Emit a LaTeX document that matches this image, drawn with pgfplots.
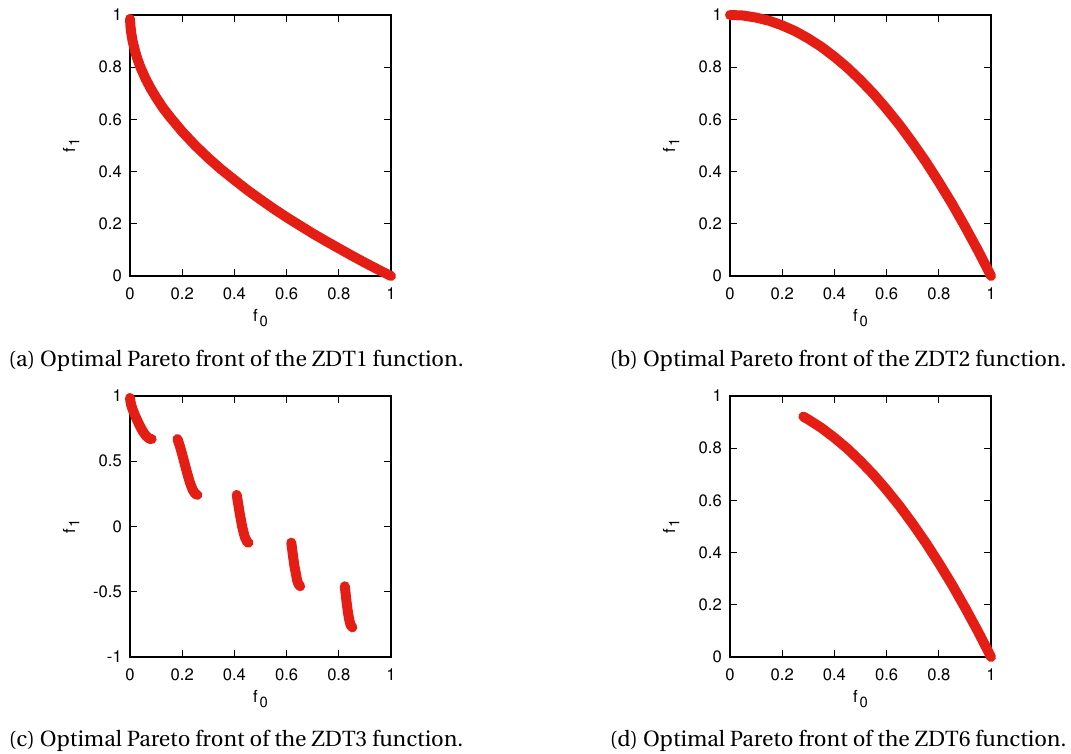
\documentclass[border=0pt]{standalone}
\usepackage[T1]{fontenc}
\usepackage{pgfplots}
\pgfplotsset{compat=1.18}
\definecolor{ptred}{RGB}{228,30,20}
\newcommand\hv{\fontfamily{phv}\fontsize{8.3}{9}\selectfont}
\newcommand\capfont{\fontfamily{put}\fontsize{11}{13}\selectfont}
\newcommand\sub[1]{\kern0.9pt\raisebox{-0.5ex}{\fontfamily{phv}\fontsize{7.4}{8}\selectfont #1}}
\pgfplotsset{
  zdt/.style={
    scale only axis, width=130.5pt, height=130.5pt,
    xmin=0, xmax=1,
    xtick={0,0.2,0.4,0.6,0.8,1},
    tick align=inside,
    major tick length=3.6pt,
    axis line style={line width=0.55pt},
    every tick/.style={black, line width=0.55pt},
    tick label style={font=\hv},
    /pgf/number format/assume math mode=true,
    xticklabel style={yshift=-2.2pt},
    yticklabel style={xshift=-0.6pt},
    xlabel={\hv f\sub{0}},
    ylabel={\hv f\sub{1}},
    xlabel style={at={(axis description cs:0.5,-0.1762)}, anchor=base},
    ylabel style={at={(axis description cs:-0.2107,0.5)}, anchor=base, rotate=0},
    clip=false,
  },
  front/.style={ptred, line width=5pt, line cap=round, line join=round, no marks},
}
\begin{document}
\begin{tikzpicture}
\useasboundingbox (0,0) rectangle (535.5pt,377pt);
% (a) ZDT1
\begin{axis}[zdt, at={(65pt,239pt)}, anchor=south west, ymin=0, ymax=1,
  ytick={0,0.2,0.4,0.6,0.8,1}]
\addplot[front] coordinates {
(0,0.985) (0.002,0.955) (0.005,0.929) (0.01,0.9) (0.02,0.859) (0.03,0.827)
(0.04,0.8) (0.06,0.755) (0.08,0.717) (0.1,0.684) (0.125,0.646) (0.15,0.613)
(0.2,0.553) (0.25,0.5) (0.3,0.452) (0.35,0.408) (0.4,0.368) (0.45,0.329)
(0.5,0.293) (0.55,0.258) (0.6,0.225) (0.65,0.194) (0.7,0.163) (0.75,0.134)
(0.8,0.106) (0.85,0.078) (0.9,0.051) (0.95,0.025) (0.98,0.010) (1.0,0.0) };
\end{axis}
% (b) ZDT2
\begin{axis}[zdt, at={(365pt,239pt)}, anchor=south west, ymin=0, ymax=1,
  ytick={0,0.2,0.4,0.6,0.8,1}]
\addplot[front] coordinates {
(0,1) (0.05,0.998) (0.1,0.99) (0.15,0.978) (0.2,0.96) (0.25,0.938)
(0.3,0.91) (0.35,0.878) (0.4,0.84) (0.45,0.798) (0.5,0.75) (0.55,0.698)
(0.6,0.64) (0.65,0.578) (0.7,0.51) (0.75,0.438) (0.8,0.36) (0.85,0.278)
(0.9,0.19) (0.95,0.098) (0.97,0.059) (0.985,0.030) (1.0,0.0) };
\end{axis}
% (c) ZDT3
\begin{axis}[zdt, at={(65pt,48.5pt)}, anchor=south west, ymin=-1, ymax=1,
  ytick={-1,-0.5,0,0.5,1}]
\addplot[front] coordinates {
(0,0.985) (0.002,0.955) (0.005,0.928) (0.01,0.897) (0.02,0.847) (0.03,0.803)
(0.04,0.762) (0.05,0.726) (0.06,0.698) (0.07,0.679) (0.076,0.672) (0.083,0.670) };
\addplot[front] coordinates {
(0.182,0.670) (0.19,0.623) (0.2,0.553) (0.21,0.477) (0.22,0.402)
(0.23,0.334) (0.24,0.282) (0.25,0.25) (0.258,0.242) };
\addplot[front] coordinates {
(0.409,0.242) (0.415,0.167) (0.42,0.105) (0.43,-0.004) (0.44,-0.082)
(0.45,-0.121) (0.454,-0.124) };
\addplot[front] coordinates {
(0.618,-0.124) (0.625,-0.233) (0.63,-0.303) (0.64,-0.409) (0.645,-0.440)
(0.652,-0.458) };
\addplot[front] coordinates {
(0.823,-0.458) (0.83,-0.583) (0.835,-0.658) (0.84,-0.715) (0.845,-0.754)
(0.852,-0.773) };
\end{axis}
% (d) ZDT6
\begin{axis}[zdt, at={(365pt,48.5pt)}, anchor=south west, ymin=0, ymax=1,
  ytick={0,0.2,0.4,0.6,0.8,1}]
\addplot[front] coordinates {
(0.281,0.921) (0.3,0.91) (0.35,0.878) (0.4,0.84) (0.45,0.798) (0.5,0.75)
(0.55,0.698) (0.6,0.64) (0.65,0.578) (0.7,0.51) (0.75,0.438) (0.8,0.36)
(0.85,0.278) (0.9,0.19) (0.95,0.098) (0.97,0.059) (0.985,0.030) (1.0,0.0) };
\end{axis}
% captions
\node[anchor=base, inner sep=0pt] at (118pt,193.5pt) {\capfont (a) Optimal Pareto front of the ZDT1 function.};
\node[anchor=base, inner sep=0pt] at (419pt,193.5pt) {\capfont (b) Optimal Pareto front of the ZDT2 function.};
\node[anchor=base, inner sep=0pt] at (118pt,3.5pt) {\capfont (c) Optimal Pareto front of the ZDT3 function.};
\node[anchor=base, inner sep=0pt] at (419pt,3.5pt) {\capfont (d) Optimal Pareto front of the ZDT6 function.};
\end{tikzpicture}
\end{document}
